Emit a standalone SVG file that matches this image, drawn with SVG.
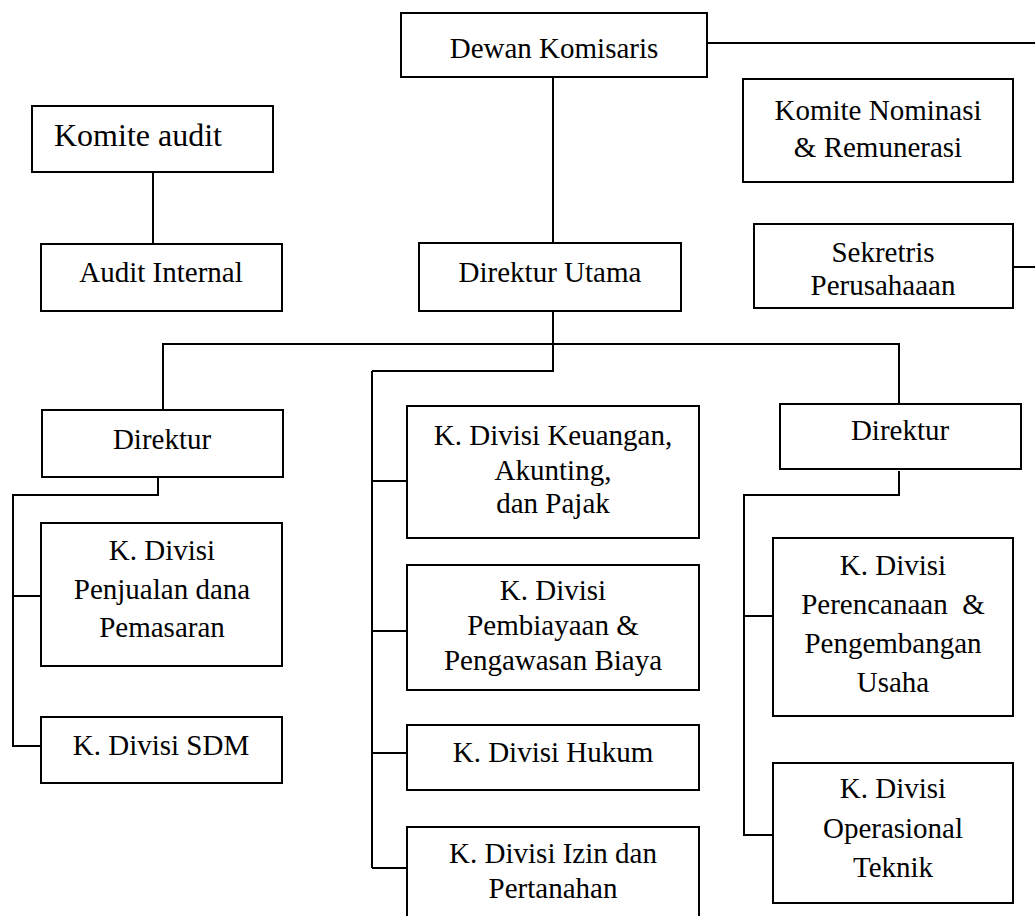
<svg xmlns="http://www.w3.org/2000/svg" width="1035" height="916" viewBox="0 0 1035 916">
<style>
.box{fill:#fff;stroke:#000;stroke-width:2}
.conn path{fill:none;stroke:#000;stroke-width:2}
text{font-family:"Liberation Serif","Times New Roman",serif;font-size:29px;fill:#000;text-anchor:middle}
.big{font-size:32px;text-anchor:start}
</style>
<rect x="0" y="0" width="1035" height="916" fill="#fff"/>
<g class="conn" id="connectors">
<path d="M707,43 H1035"/>
<path d="M553,77 V243"/>
<path d="M153,172 V244"/>
<path d="M1013,267 H1035"/>
<path d="M553,311 V371 H372"/>
<path d="M163,410 V344 H899 V404"/>
<path d="M372,371 V868"/>
<path d="M372,481 H407 M372,631 H407 M372,753 H407 M372,868 H407"/>
<path d="M158,475 V495 H13 V747"/>
<path d="M13,596 H41 M13,746 H41"/>
<path d="M899,471 V495 H744 V836"/>
<path d="M744,616 H773 M744,835 H773"/>
</g>
<g id="dewan-komisaris"><rect class="box" x="401" y="13" width="306" height="64"/><text x="554" y="58">Dewan Komisaris</text></g>
<g id="komite-nominasi"><rect class="box" x="743" y="79" width="270" height="103"/><text x="878" y="120">Komite Nominasi</text><text x="878" y="157">&amp; Remunerasi</text></g>
<g id="komite-audit"><rect class="box" x="32" y="106" width="241" height="66"/><text class="big" x="54" y="146">Komite audit</text></g>
<g id="audit-internal"><rect class="box" x="41" y="244" width="241" height="67"/><text x="161" y="282">Audit Internal</text></g>
<g id="direktur-utama"><rect class="box" x="419" y="243" width="262" height="68"/><text x="550" y="282">Direktur Utama</text></g>
<g id="sekretris"><rect class="box" x="754" y="224" width="259" height="84"/><text x="883" y="262">Sekretris</text><text x="883" y="295">Perusahaaan</text></g>
<g id="direktur-kiri"><rect class="box" x="42" y="410" width="241" height="67"/><text x="162" y="449">Direktur</text></g>
<g id="penjualan"><rect class="box" x="41" y="523" width="241" height="143"/><text x="162" y="560">K. Divisi</text><text x="162" y="599">Penjualan dana</text><text x="162" y="637">Pemasaran</text></g>
<g id="sdm"><rect class="box" x="41" y="717" width="241" height="66"/><text x="161" y="755">K. Divisi SDM</text></g>
<g id="keuangan"><rect class="box" x="407" y="406" width="292" height="132"/><text x="553" y="445">K. Divisi Keuangan,</text><text x="553" y="480">Akunting,</text><text x="553" y="513">dan Pajak</text></g>
<g id="pembiayaan"><rect class="box" x="407" y="565" width="292" height="125"/><text x="553" y="600">K. Divisi</text><text x="553" y="635">Pembiayaan &amp;</text><text x="553" y="670">Pengawasan Biaya</text></g>
<g id="hukum"><rect class="box" x="407" y="725" width="292" height="65"/><text x="553" y="762">K. Divisi Hukum</text></g>
<g id="izin"><rect class="box" x="407" y="827" width="292" height="110"/><text x="553" y="863">K. Divisi Izin dan</text><text x="553" y="898">Pertanahan</text></g>
<g id="direktur-kanan"><rect class="box" x="780" y="404" width="241" height="65"/><text x="900" y="440">Direktur</text></g>
<g id="perencanaan"><rect class="box" x="773" y="538" width="240" height="178"/><text x="893" y="575">K. Divisi</text><text x="893" y="614">Perencanaan&#160; &amp;</text><text x="893" y="653">Pengembangan</text><text x="893" y="692">Usaha</text></g>
<g id="operasional"><rect class="box" x="773" y="763" width="240" height="140"/><text x="893" y="798">K. Divisi</text><text x="893" y="838">Operasional</text><text x="893" y="877">Teknik</text></g>
</svg>
